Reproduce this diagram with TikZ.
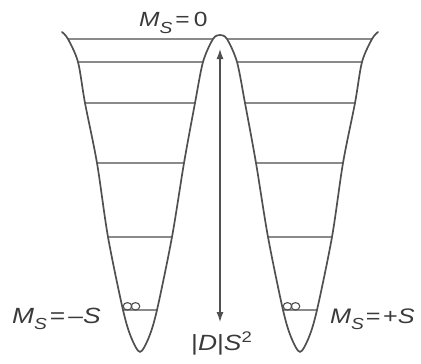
\documentclass[tikz,border=0pt]{standalone}
\usepackage{fontspec}
\setmainfont{Liberation Sans}
\newfontfamily\labelfont[FakeStretch=1.2]{Liberation Sans}
\usetikzlibrary{arrows.meta}
\definecolor{wellgray}{HTML}{505050}
\definecolor{levelgray}{HTML}{8A8A8A}
\definecolor{labelgray}{HTML}{3A3A3A}
\tikzset{
    wellcurve/.style={draw=wellgray, line width=1.7pt, line cap=round, line join=round},
    levelline/.style={draw=levelgray, line width=1.2pt},
    gaparrow/.style={{Latex[length=10pt,width=7pt]}-{Latex[length=10pt,width=7pt]}, draw=wellgray, line width=1.3pt},
    spinpair/.style={draw=wellgray, line width=1.1pt},
    statelabel/.style={text=labelgray, font=\labelfont\fontsize{22}{25}\selectfont, inner sep=0pt, anchor=base west}
}
\newcommand{\msub}{\textit{M}\raisebox{-0.3em}{\fontsize{16}{16}\selectfont\textit{S}}}

\begin{document}
\begin{tikzpicture}[x=1pt, y=-1pt]
    \useasboundingbox (0,0) rectangle (421,364);
    % Level end points on the walls of both wells
    \foreach \n/\y/\xo/\xi in {1/39/68/213, 2/62/78/203, 3/103/85/195, 4/163/97/184, 5/237/108/172, 6/310/123/157}{
        \coordinate (lo\n) at (\xo,\y);
        \coordinate (li\n) at (\xi,\y);
        \coordinate (ri\n) at (440-\xi,\y);
        \coordinate (ro\n) at (440-\xo,\y);
    }
    \coordinate (ltop) at (62,32);
    \coordinate (lbot) at (140,352);
    \coordinate (peak) at (220,35);
    \coordinate (rbot) at (300,352);
    \coordinate (rtop) at (378,32);
    \coordinate (gaptop) at (220,49);
    \coordinate (gapbot) at (220,322);
    
    % Energy levels
    \foreach \n in {1,...,6}{
        \draw[levelline] (lo\n) -- (li\n);
        \draw[levelline] (ri\n) -- (ro\n);
    }
    
    % Double well
    \draw[wellcurve] plot[smooth, tension=0.5] coordinates {(ltop) (lo1) (lo2) (lo3) (lo4) (lo5) (lo6) (131,337) (lbot) (149,337) (li6) (li5) (li4) (li3) (li2) (li1) (peak) (ri1) (ri2) (ri3) (ri4) (ri5) (ri6) (291,337) (rbot) (309,337) (ro6) (ro5) (ro4) (ro3) (ro2) (ro1) (rtop)};
    
    % Ground state pairs
    \foreach \cx in {127.5,135.5,287.5,295.5}
        \draw[spinpair] (\cx,306.3) ellipse[x radius=4.3pt, y radius=3.7pt];
    
    % Barrier
    \draw[gaparrow] (gaptop) -- (gapbot);
    
    \node[statelabel, font=\labelfont\fontsize{20.5}{23}\selectfont] (mzero) at (139,27) {\msub\kern3pt=\kern4pt0};
    \node[statelabel] (mminus) at (12,323) {\msub\kern3pt=\kern3pt–\textit{S}};
    \node[statelabel, font=\labelfont\fontsize{21}{24}\selectfont] (mplus) at (330,323) {\msub\kern2pt=\kern2.5pt+\textit{S}};
    \node[statelabel] (dgap) at (191,350) {|\textit{D}|\textit{S}\textsuperscript{2}};
\end{tikzpicture}
\end{document}
